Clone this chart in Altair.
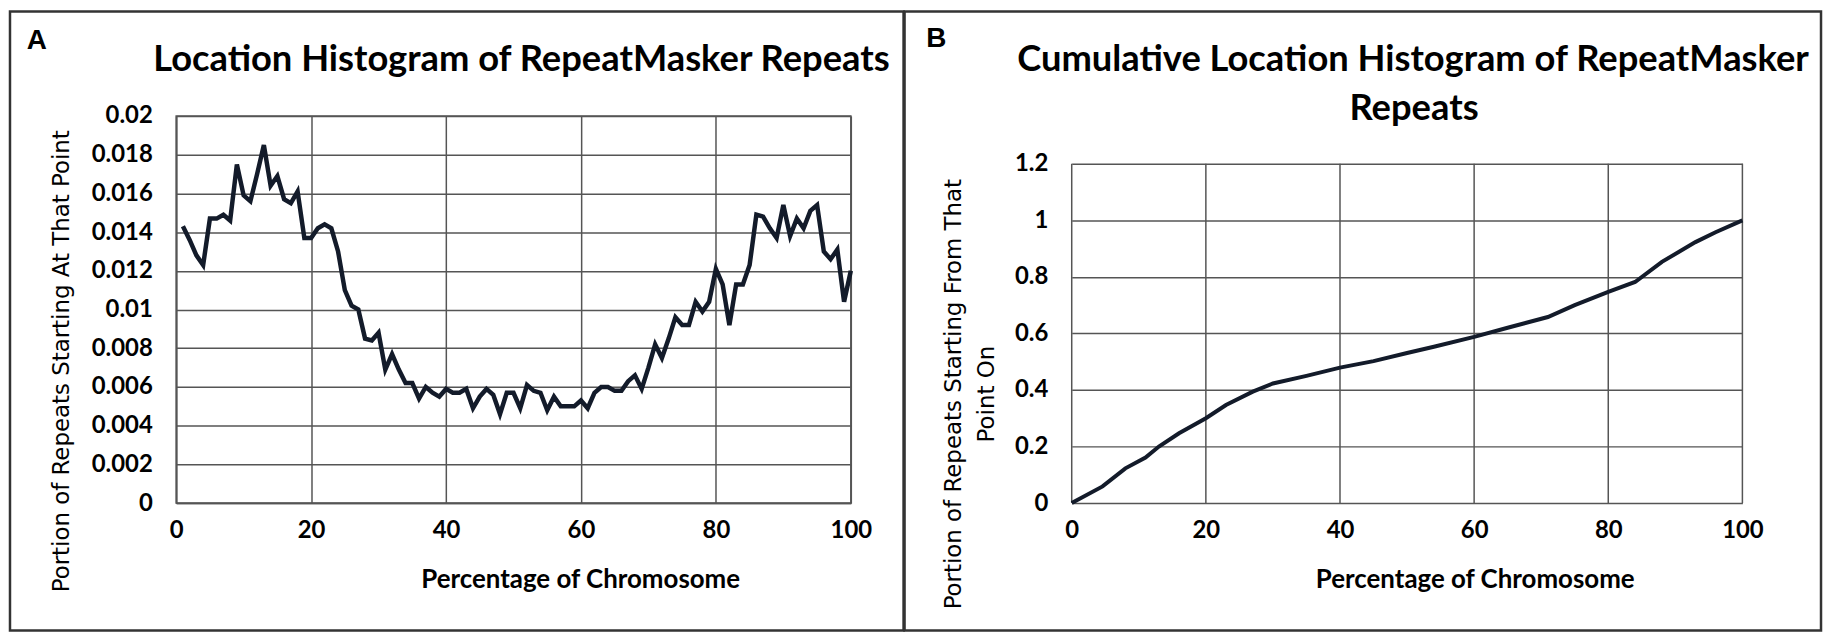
import altair as alt
import pandas as pd

# ---------------- data ----------------
A_X = list(range(1, 101))
A_Y = [
    0.0143, 0.0136, 0.0128, 0.0123, 0.0147, 0.0147, 0.0149, 0.0146, 0.0175, 0.0159,
    0.0156, 0.0170, 0.0185, 0.0164, 0.0169, 0.0157, 0.0155, 0.0161, 0.0137, 0.0137,
    0.0142, 0.0144, 0.0142, 0.0130, 0.0110, 0.0102, 0.0100, 0.0085, 0.0084, 0.0088,
    0.0069, 0.0077, 0.0069, 0.0062, 0.0062, 0.0054, 0.0060, 0.0057, 0.0055, 0.0059,
    0.0057, 0.0057, 0.0059, 0.0049, 0.0055, 0.0059, 0.0056, 0.0046, 0.0057, 0.0057,
    0.0049, 0.0061, 0.0058, 0.0057, 0.0048, 0.0055, 0.0050, 0.0050, 0.0050, 0.0053,
    0.0049, 0.0057, 0.0060, 0.0060, 0.0058, 0.0058, 0.0063, 0.0066, 0.0059, 0.0070,
    0.0082, 0.0075, 0.0085, 0.0096, 0.0092, 0.0092, 0.0104, 0.0099, 0.0104, 0.0121,
    0.0113, 0.0092, 0.0113, 0.0113, 0.0123, 0.0149, 0.0148, 0.0142, 0.0137, 0.0154,
    0.0138, 0.0147, 0.0142, 0.0151, 0.0154, 0.0130, 0.0126, 0.0131, 0.0104, 0.0120,
]

B_X = [0, 4.6, 8, 11, 13, 16, 20, 23, 27, 30, 35, 40, 45, 50, 54, 60, 65, 71, 75, 80,
       84, 88, 93, 96, 100]
B_Y = [0, 0.059, 0.123, 0.161, 0.200, 0.247, 0.300, 0.347, 0.394, 0.423, 0.450, 0.479,
       0.502, 0.531, 0.553, 0.588, 0.620, 0.658, 0.700, 0.747, 0.782, 0.853, 0.923,
       0.958, 1.0]

X_TICKS = [0, 20, 40, 60, 80, 100]
A_Y_TICKS = [0, 0.002, 0.004, 0.006, 0.008, 0.01, 0.012, 0.014, 0.016, 0.018, 0.02]
B_Y_TICKS = [0, 0.2, 0.4, 0.6, 0.8, 1.0, 1.2]

TITLE_A = "Location Histogram of RepeatMasker Repeats"
TITLE_B1 = "Cumulative Location Histogram of RepeatMasker"
TITLE_B2 = "Repeats"
XTITLE = "Percentage of Chromosome"
YTITLE_A = "Portion of Repeats Starting At That Point"
YTITLE_B = ["Portion of Repeats Starting From That", "Point On"]
LETTER_A = "A"
LETTER_B = "B"

df_a = pd.DataFrame({"x": A_X, "y": A_Y})
df_b = pd.DataFrame({"x": B_X, "y": B_Y})
df_bgrid = pd.DataFrame({"x": X_TICKS})

# ---------------- styles ----------------
LABEL_FONT = "Lato"
TITLE_FONT = "Lato"
YT_FONT = "DejaVu Sans"
GRID = "#555555"
LINE = "#131b2a"
BORDER = "#333333"

PLOT_H = 389                     # both panels share the same group height
B_PLOT_H = 341                   # panel B's drawn plot area height
B_TOP = 1.2 * PLOT_H / B_PLOT_H  # domain top so that 1.2 sits 48px lower


def x_axis(title_x, grid=True, domain=True):
    return alt.Axis(
        values=X_TICKS, grid=grid, ticks=False, domain=domain, domainColor=GRID,
        domainWidth=1.5, gridColor=GRID, gridWidth=1.5, gridOpacity=1,
        labelFont=LABEL_FONT, labelFontSize=24, labelFontWeight="bold",
        labelColor="black", labelPadding=16, labelFlush=False,
        title=XTITLE, titleFont=TITLE_FONT, titleFontSize=26, titleFontWeight="bold",
        titleColor="black", titleX=title_x, titleY=77, titleAlign="center",
        titleBaseline="middle",
    )


def y_axis(values, title, title_x, title_y, domain=True):
    return alt.Axis(
        values=values, format="~g", grid=True, ticks=False, domain=domain,
        domainColor=GRID, domainWidth=1.5, gridColor=GRID, gridWidth=1.5,
        gridOpacity=1, labelFont=LABEL_FONT, labelFontSize=24,
        labelFontWeight="bold", labelColor="black", labelPadding=24,
        labelFlush=False,
        title=title, titleFont=YT_FONT, titleFontSize=23, titleFontWeight="normal",
        titleColor="black", titleX=title_x, titleY=title_y, titleAngle=270,
        titleAlign="center", titleBaseline="middle", titleLineHeight=33,
    )


def label(text, x, y, size, font, weight="bold"):
    return alt.Chart().mark_text(
        font=font, fontSize=size, fontWeight=weight, color="black",
        align="center", baseline="middle",
    ).encode(x=alt.value(x), y=alt.value(y), text=alt.value(text))


def border(x1, x2, y1, y2):
    return alt.Chart().mark_rect(
        filled=False, stroke=BORDER, strokeWidth=2.5,
    ).encode(x=alt.value(x1), x2=alt.value(x2), y=alt.value(y1), y2=alt.value(y2))


# ---------------- panel A ----------------
line_a = alt.Chart(df_a).mark_line(color=LINE, strokeWidth=4.5).encode(
    x=alt.X("x:Q", scale=alt.Scale(domain=[0, 100], nice=False, zero=False),
            axis=x_axis(406)),
    y=alt.Y("y:Q", scale=alt.Scale(domain=[0, 0.02], nice=False),
            axis=y_axis(A_Y_TICKS, YTITLE_A, -115, 246)),
)

panel_a = alt.layer(
    border(-167, 731, -105, 517),
    line_a,
    label(TITLE_A, 347, -56, 36.5, TITLE_FONT),
    label(LETTER_A, -140, -75, 28, "Liberation Sans"),
).properties(width=678, height=PLOT_H)

# ---------------- panel B ----------------
xb = alt.X("x:Q", scale=alt.Scale(domain=[0, 100], nice=False, zero=False),
           axis=x_axis(405, grid=False, domain=False))
yb_scale = alt.Scale(domain=[0, B_TOP], nice=False)

grid_b = alt.Chart(df_bgrid).mark_rule(color=GRID, strokeWidth=1.5).encode(
    x=xb,
    y=alt.datum(B_Y_TICKS[0], scale=yb_scale),
    y2=alt.datum(B_Y_TICKS[-1]),
)

line_b = alt.Chart(df_b).mark_line(color=LINE, strokeWidth=4).encode(
    x=xb,
    y=alt.Y("y:Q", scale=yb_scale,
            axis=y_axis(B_Y_TICKS, YTITLE_B, -119, 279, domain=False)),
)

panel_b = alt.layer(
    border(-168, 753, -105, 517),
    grid_b,
    line_b,
    label(TITLE_B1, 343, -56, 36.5, TITLE_FONT),
    label(TITLE_B2, 344, -7, 36.5, TITLE_FONT),
    label(LETTER_B, -136, -77, 28, "Liberation Sans"),
).properties(
    width=674, height=PLOT_H,
    view=alt.ViewBackground(strokeOpacity=0, strokeWidth=0),
)

chart = alt.hconcat(panel_a, panel_b, spacing=-3).properties(
    padding=0, background="white"
).configure_view(stroke=GRID, strokeWidth=1.5)

chart.save("out.html", embed_options={"renderer": "svg", "actions": False})
